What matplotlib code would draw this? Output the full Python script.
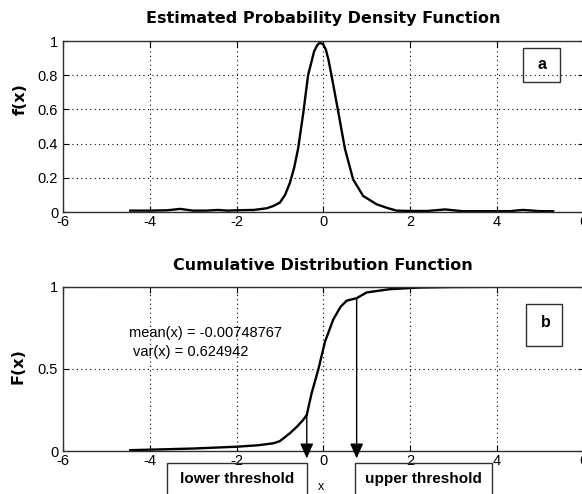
import matplotlib
matplotlib.use("Agg")
import matplotlib.pyplot as plt
from matplotlib.patches import Rectangle

plt.rcParams['font.family'] = ['Liberation Sans', 'DejaVu Sans']

# ---- data ----
pdf_x = [-4.45, -4.0, -3.6, -3.3, -3.0, -2.7, -2.43, -2.2, -2.0, -1.6, -1.3, -1.15,
         -1.0, -0.88, -0.77, -0.67, -0.58, -0.46, -0.35, -0.21, -0.14, -0.08, 0.0,
         0.06, 0.12, 0.19, 0.35, 0.50, 0.69, 0.92, 1.23, 1.46, 1.69, 2.0, 2.4, 2.81,
         3.2, 3.8, 4.3, 4.6, 5.0, 5.3]
pdf_y = [0.008, 0.008, 0.010, 0.018, 0.008, 0.008, 0.012, 0.008, 0.010, 0.012,
         0.022, 0.035, 0.055, 0.10, 0.17, 0.26, 0.37, 0.58, 0.80, 0.94, 0.975, 0.99,
         0.98, 0.95, 0.89, 0.80, 0.58, 0.37, 0.19, 0.094, 0.045, 0.025, 0.008, 0.006,
         0.006, 0.015, 0.005, 0.005, 0.005, 0.012, 0.005, 0.005]

cdf_x = [-4.45, -4.0, -3.0, -2.0, -1.5, -1.15, -1.0, -0.77, -0.6, -0.46, -0.38,
         -0.27, -0.11, 0.04, 0.23, 0.4, 0.54, 0.77, 1.0, 1.54, 2.23, 3.0, 4.54]
cdf_y = [0.005, 0.008, 0.015, 0.026, 0.035, 0.047, 0.06, 0.108, 0.15, 0.19, 0.22,
         0.35, 0.50, 0.665, 0.80, 0.878, 0.915, 0.93, 0.965, 0.985, 0.995, 0.998, 1.0]

x_ticks = [-6, -4, -2, 0, 2, 4, 6]
pdf_yticks = [0, 0.2, 0.4, 0.6, 0.8, 1]
cdf_yticks = [0, 0.5, 1]

mean_x = -0.00748767
var_x = 0.624942
lower_thr, lower_F = -0.38, 0.22
upper_thr, upper_F = 0.77, 0.93

W, H = 582, 494
fig = plt.figure(figsize=(W / 100, H / 100), dpi=100)

def px_rect(l, t, r, b):
    return [l / W, 1 - b / H, (r - l) / W, (b - t) / H]

ax1 = fig.add_axes(px_rect(63, 41, 583.5, 212))
ax2 = fig.add_axes(px_rect(63, 286.7, 583.5, 451))

for ax in (ax1, ax2):
    ax.set_xlim(-6, 6)
    ax.set_xticks(x_ticks)
    ax.set_xticklabels([str(t) for t in x_ticks])
    ax.grid(True, color='black', linestyle=(0, (1, 3)), linewidth=0.8)
    ax.tick_params(direction='in', length=4, top=True, right=True,
                   labelsize=10.5, width=0.8)
    ax.tick_params(axis='x', pad=2.5)
    ax.tick_params(axis='y', pad=3.5)
    for s in ax.spines.values():
        s.set_color('#303030')
        s.set_linewidth(1.0)

title_font = dict(family='DejaVu Sans', fontsize=11.5, fontweight='bold')

# ---- PDF ----
ax1.plot(pdf_x, pdf_y, color='black', linewidth=1.7)
ax1.set_ylim(0, 1)
ax1.set_yticks(pdf_yticks)
ax1.set_yticklabels(['0', '0.2', '0.4', '0.6', '0.8', '1'])
ax1.set_title('Estimated Probability Density Function', y=1.129, va='center',
              pad=0, **title_font)
ax1.set_ylabel('f(x)', va='center', **title_font)
ax1.yaxis.set_label_coords((20 - 63) / 520.5, 0.66)
ax1.add_patch(Rectangle((4.61, 0.76), 0.84, 0.20, fill=False, edgecolor='#303030',
                        linewidth=1.0, clip_on=False))
ax1.text(5.05, 0.86, 'a', fontsize=11.5, fontweight='bold', ha='center', va='center')

# ---- CDF ----
ax2.plot(cdf_x, cdf_y, color='black', linewidth=1.7)
ax2.set_ylim(0, 1)
ax2.set_yticks(cdf_yticks)
ax2.set_yticklabels(['0', '0.5', '1'])
ax2.set_title('Cumulative Distribution Function', y=1.126, va='center',
              pad=0, **title_font)
ax2.set_ylabel('F(x)', va='center', **title_font)
ax2.yaxis.set_label_coords((18 - 63) / 520.5, 0.52)
ax2.set_xlabel('x', fontsize=9, va='center')
ax2.xaxis.set_label_coords((321 - 63) / 520.5, (451 - 487) / 164.3)

ax2.text(-4.48, 0.72, f'mean(x) = {mean_x}', fontsize=10.5, ha='left', va='center')
ax2.text(-4.39, 0.60, f'var(x) = {var_x}', fontsize=10.5, ha='left', va='center')

ax2.add_patch(Rectangle((4.68, 0.64), 0.83, 0.255, fill=False, edgecolor='#303030',
                        linewidth=1.0, clip_on=False))
ax2.text(5.12, 0.785, 'b', fontsize=11.5, fontweight='bold', ha='center', va='center')

for thr, F in ((lower_thr, lower_F), (upper_thr, upper_F)):
    ax2.annotate('', xy=(thr, -0.045), xytext=(thr, F),
                 arrowprops=dict(arrowstyle='-|>,head_length=0.9,head_width=0.4',
                                 color='black', linewidth=1.0, shrinkA=0, shrinkB=0),
                 annotation_clip=False)

# threshold label boxes below the axes
for (l, r), label in (((167, 307), 'lower threshold'), ((355, 492), 'upper threshold')):
    fig.add_artist(Rectangle((l / W, -0.05), (r - l) / W, 0.05 + (1 - 463 / H),
                             transform=fig.transFigure, fill=False,
                             edgecolor='#303030', linewidth=1.0))
    fig.text((l + r) / 2 / W, 1 - 478.5 / H, label, fontsize=11, fontweight='bold',
             ha='center', va='center')

fig.savefig('out.png', dpi=100)
